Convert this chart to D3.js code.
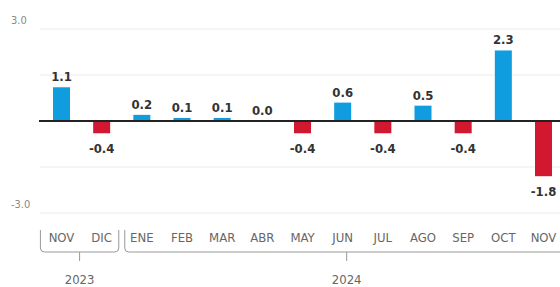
<!DOCTYPE html>
<html>
<head>
<meta charset="utf-8">
<script src="https://cdn.jsdelivr.net/npm/d3@7"></script>
<style>
  body { margin: 0; background: #fff; }
  svg { display: block; }
</style>
</head>
<body>
<svg id="chart" width="560" height="287"></svg>
<script>
const months = ['NOV', 'DIC', 'ENE', 'FEB', 'MAR', 'ABR', 'MAY', 'JUN', 'JUL', 'AGO', 'SEP', 'OCT', 'NOV ']
const values = [1.1, -0.4, 0.2, 0.1, 0.1, 0.0, -0.4, 0.6, -0.4, 0.5, -0.4, 2.3, -1.8]
const yTicks = [3, 1.5, 0, -1.5, -3]
const yLabelTicks = [3, -3]
const years = [
  { label: '2023', from: 0, to: 1 },
  { label: '2024', from: 2, to: 12 }
]

const svg = d3.select('#chart')
const x = d3.scalePoint().domain(months).range([61.5, 543.5])
const y = d3.scaleLinear().domain([-3, 3]).range([213, 29])
const step = x.step()
const barW = 17
const font = 'DejaVu Sans Condensed, sans-serif'

// gridlines
svg.append('g')
  .selectAll('line')
  .data(yTicks.filter(d => d !== 0))
  .join('line')
    .attr('x1', 40).attr('x2', 560)
    .attr('y1', d => y(d)).attr('y2', d => y(d))
    .attr('stroke', '#ebebeb')
    .attr('stroke-width', 1)

svg.append('g')
  .selectAll('text')
  .data(yLabelTicks)
  .join('text')
    .attr('x', 11)
    .attr('y', d => y(d) - 5)
    .attr('font-family', font)
    .attr('font-size', 11)
    .attr('fill', '#8a8a8a')
    .text(d => d3.format('.1f')(d).replace('−', '-'))

// bars
svg.append('g')
  .selectAll('rect')
  .data(values)
  .join('rect')
    .attr('x', (d, i) => x(months[i]) - barW / 2)
    .attr('width', barW)
    .attr('y', d => d >= 0 ? y(d) : y(0))
    .attr('height', d => Math.abs(y(d) - y(0)))
    .attr('fill', d => d >= 0 ? '#0f9de0' : '#d21830')

// zero line
svg.append('line')
  .attr('x1', 39).attr('x2', 560)
  .attr('y1', y(0)).attr('y2', y(0))
  .attr('stroke', '#222')
  .attr('stroke-width', 2)

// value labels
svg.append('g')
  .selectAll('text')
  .data(values)
  .join('text')
    .attr('x', (d, i) => x(months[i]))
    .attr('y', d => d >= 0 ? y(d) - 6 : y(d) + 20)
    .attr('text-anchor', 'middle')
    .attr('font-family', font)
    .attr('font-weight', 'bold')
    .attr('font-size', 13)
    .attr('fill', '#333')
    .text(d => d3.format('.1f')(d).replace('−', '-'))

// month labels
svg.append('g')
  .selectAll('text')
  .data(months)
  .join('text')
    .attr('x', d => x(d))
    .attr('y', 242)
    .attr('text-anchor', 'middle')
    .attr('font-family', font)
    .attr('font-size', 13)
    .attr('fill', '#666')
    .text(d => d.trim())

// year brackets
const bTop = 230, bBot = 252, r = 4
years.forEach((yr, i) => {
  const x0 = x(months[yr.from]) - step / 2 + (i === 0 ? -1 : 3)
  const x1 = x(months[yr.to]) + step / 2 - 3 + (i === years.length - 1 ? 8 : 0)
  const mid = (x0 + x1) / 2
  const p = d3.path()
  p.moveTo(x0, bTop)
  p.lineTo(x0, bBot - r)
  p.quadraticCurveTo(x0, bBot, x0 + r, bBot)
  p.lineTo(x1 - r, bBot)
  p.quadraticCurveTo(x1, bBot, x1, bBot - r)
  p.lineTo(x1, bTop)
  p.moveTo(mid, bBot)
  p.lineTo(mid, bBot + 9)
  svg.append('path')
    .attr('d', p.toString())
    .attr('fill', 'none')
    .attr('stroke', '#999')
    .attr('stroke-width', 1)
  svg.append('text')
    .attr('x', mid)
    .attr('y', 284)
    .attr('text-anchor', 'middle')
    .attr('font-family', font)
    .attr('font-size', 13)
    .attr('fill', '#666')
    .text(yr.label)
})
</script>
</body>
</html>
